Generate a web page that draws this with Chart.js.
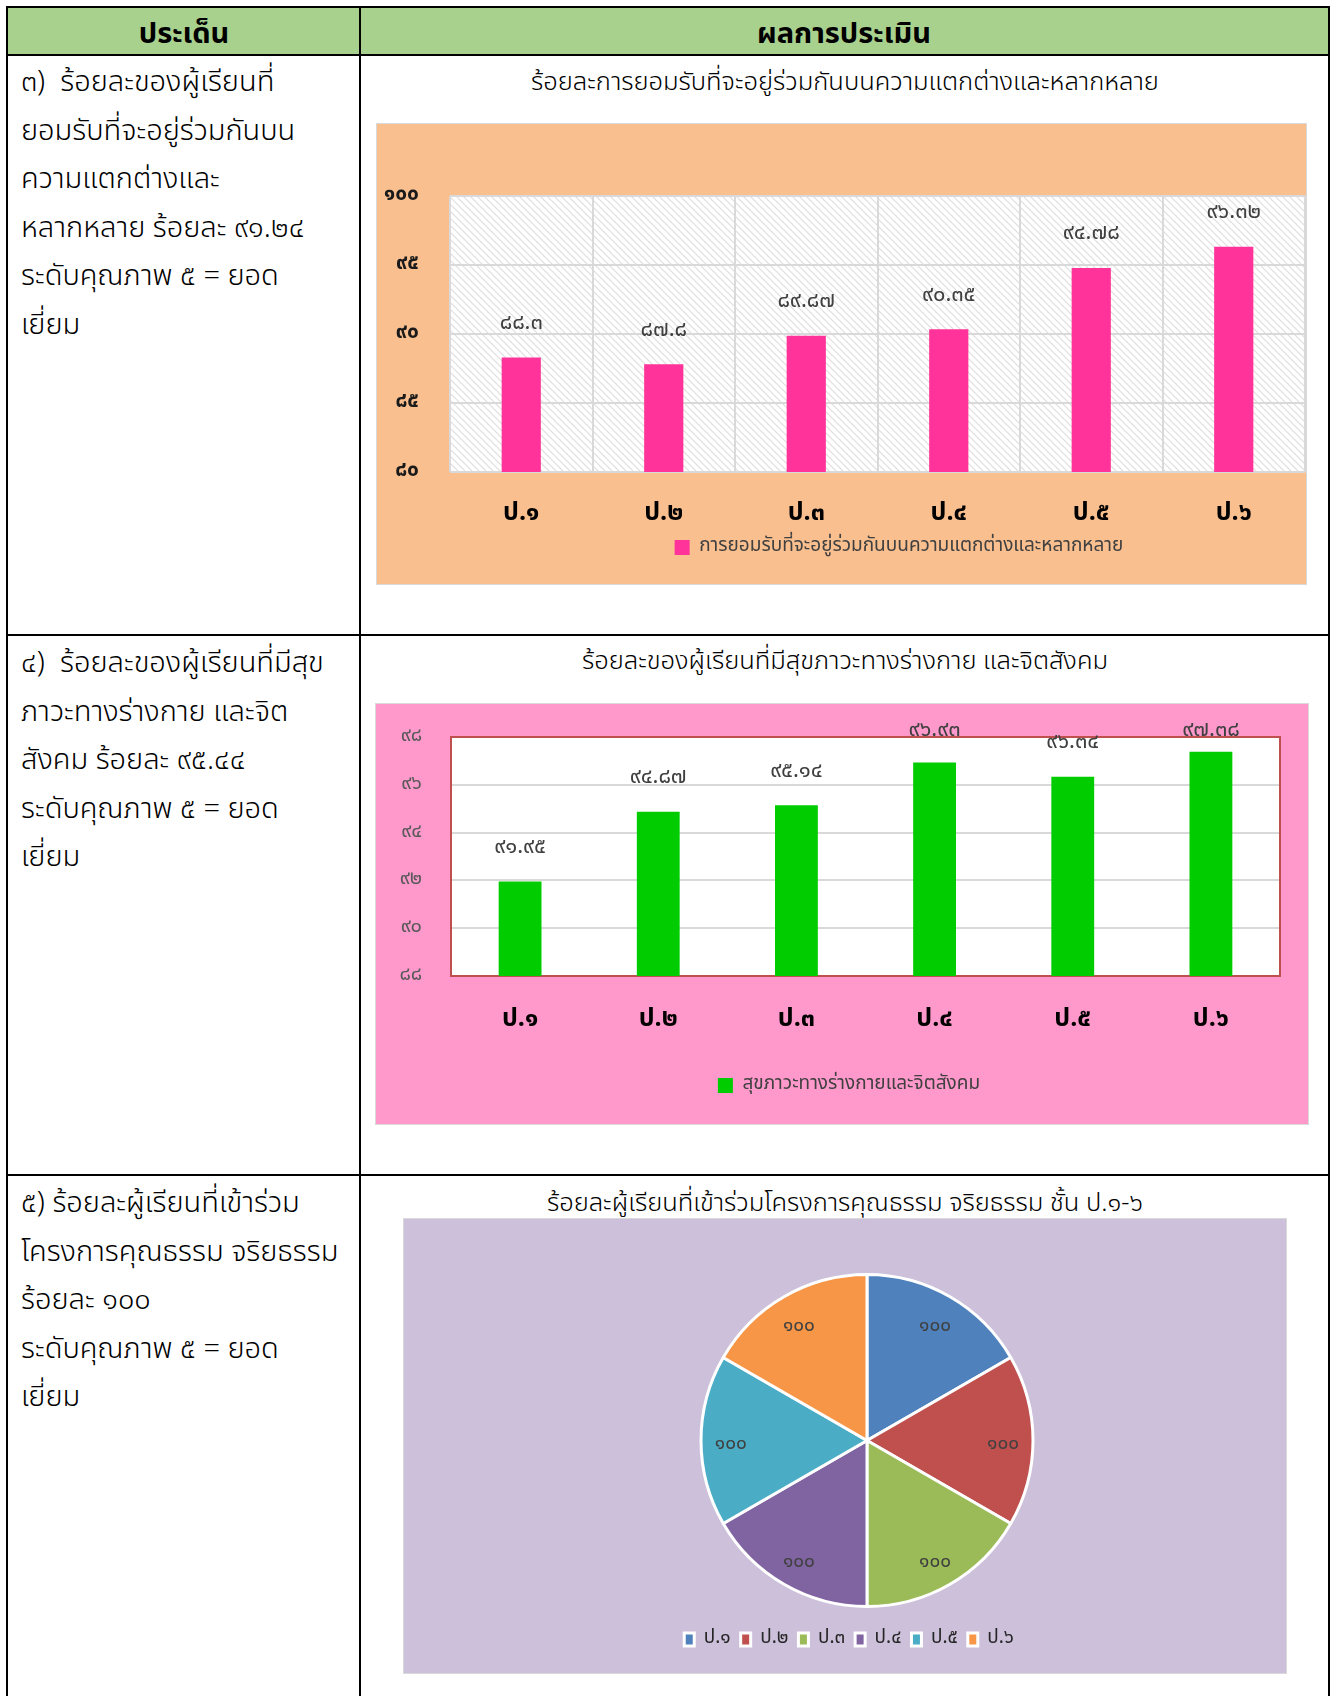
<!DOCTYPE html>
<html><head><meta charset="utf-8">
<script src="https://cdn.jsdelivr.net/npm/chart.js@4.4.1/dist/chart.umd.min.js"></script>
<style>
body{margin:0;background:#fff;}
#page{position:relative;width:1338px;height:1696px;overflow:hidden;font-family:"Noto Sans Thai","Noto Sans Thai UI","Loma","Garuda","Sarabun","DejaVu Sans","Noto Sans",sans-serif;color:#000;}
.ln{position:absolute;background:#000;}
.hdrbg{position:absolute;left:8px;top:8px;width:1320px;height:46px;background:#a9d18e;}
.hd{position:absolute;top:11px;height:46px;line-height:46px;text-align:center;font-weight:bold;font-size:29px;}
.lt{position:absolute;left:21px;width:335px;font-size:29px;font-weight:300;line-height:48.6px;white-space:nowrap;}
.ct{position:absolute;left:360px;width:970px;text-align:center;font-size:25.5px;font-weight:300;line-height:30px;white-space:nowrap;}
.frame{position:absolute;box-sizing:border-box;border:1px solid #d9d9d9;}
.frame canvas{display:block;}
</style></head><body>
<div id="page">
  <div class="hdrbg"></div>
  <div class="hd" style="left:8px;width:352px;">ประเด็น</div>
  <div class="hd" style="left:360px;width:968px;">ผลการประเมิน</div>

  <div class="lt" style="top:58px;">๓)&nbsp; ร้อยละของผู้เรียนที่<br>ยอมรับที่จะอยู่ร่วมกันบน<br>ความแตกต่างและ<br>หลากหลาย ร้อยละ ๙๑.๒๔<br>ระดับคุณภาพ ๕ = ยอด<br>เยี่ยม</div>
  <div class="lt" style="top:639px;">๔)&nbsp; ร้อยละของผู้เรียนที่มีสุข<br>ภาวะทางร่างกาย และจิต<br>สังคม ร้อยละ ๙๕.๔๔<br>ระดับคุณภาพ ๕ = ยอด<br>เยี่ยม</div>
  <div class="lt" style="top:1179px;">๕) ร้อยละผู้เรียนที่เข้าร่วม<br>โครงการคุณธรรม จริยธรรม<br>ร้อยละ ๑๐๐<br>ระดับคุณภาพ ๕ = ยอด<br>เยี่ยม</div>

  <div class="ct" style="top:67px;">ร้อยละการยอมรับที่จะอยู่ร่วมกันบนความแตกต่างและหลากหลาย</div>
  <div class="ct" style="top:646px;">ร้อยละของผู้เรียนที่มีสุขภาวะทางร่างกาย และจิตสังคม</div>
  <div class="ct" style="top:1188px;">ร้อยละผู้เรียนที่เข้าร่วมโครงการคุณธรรม จริยธรรม ชั้น ป.๑-๖</div>

  <div class="frame" style="left:376px;top:123px;width:931px;height:462px;background:#f9bf8f;"><canvas id="c1" width="929" height="460"></canvas></div>
  <div class="frame" style="left:375px;top:703px;width:934px;height:422px;background:#ff99cc;"><canvas id="c2" width="932" height="420"></canvas></div>
  <div class="frame" style="left:403px;top:1218px;width:884px;height:456px;background:#ccc0da;"><canvas id="c3" width="882" height="454"></canvas></div>

  <!-- table lines -->
  <div class="ln" style="left:6px;top:6px;width:1324px;height:2px;"></div>
  <div class="ln" style="left:6px;top:54px;width:1324px;height:2px;"></div>
  <div class="ln" style="left:6px;top:634px;width:1324px;height:2px;"></div>
  <div class="ln" style="left:6px;top:1174px;width:1324px;height:2px;"></div>
  <div class="ln" style="left:6px;top:6px;width:2px;height:1690px;"></div>
  <div class="ln" style="left:359px;top:6px;width:2px;height:1690px;"></div>
  <div class="ln" style="left:1328px;top:6px;width:2px;height:1690px;"></div>
</div>
<script>
const FONT = '"Noto Sans Thai","Noto Sans Thai UI","Loma","Garuda","Sarabun","DejaVu Sans","Noto Sans",sans-serif';
Chart.defaults.font.family = FONT;

// ---- data ----
const grades = ['ป.๑','ป.๒','ป.๓','ป.๔','ป.๕','ป.๖'];
const acceptSeriesName = 'การยอมรับที่จะอยู่ร่วมกันบนความแตกต่างและหลากหลาย';
const acceptValues = [88.3, 87.8, 89.87, 90.35, 94.78, 96.32];
const acceptTicks = [80, 85, 90, 95, 100];
const healthSeriesName = 'สุขภาวะทางร่างกายและจิตสังคม';
const healthValues = [91.95, 94.87, 95.14, 96.93, 96.34, 97.38];
const healthTicks = [88, 90, 92, 94, 96, 98];
const moralValues = [100, 100, 100, 100, 100, 100];
const pieColors = ['#4f81bd','#c0504d','#9bbb59','#8064a2','#4bacc6','#f79646'];

const THAI_DIGITS = '๐๑๒๓๔๕๖๗๘๙';
function toThai(v){ return String(v).replace(/[0-9]/g, d => THAI_DIGITS[+d]); }

// ---- plugins ----
const hatchPlugin = {
  id:'hatch',
  beforeDraw(chart, args, opts){
    if(!opts || !opts.enabled) return;
    const a = chart.chartArea, ctx = chart.ctx;
    const t = document.createElement('canvas'); t.width = 7; t.height = 7;
    const tc = t.getContext('2d');
    tc.fillStyle = '#ffffff'; tc.fillRect(0,0,7,7);
    tc.strokeStyle = '#dedede'; tc.lineWidth = 1.2;
    tc.beginPath();
    tc.moveTo(-1,-1); tc.lineTo(8,8);
    tc.moveTo(-1,6); tc.lineTo(1,8);
    tc.moveTo(6,-1); tc.lineTo(8,1);
    tc.stroke();
    ctx.save();
    ctx.fillStyle = ctx.createPattern(t,'repeat');
    ctx.fillRect(a.left, a.top, a.right-a.left, a.bottom-a.top);
    ctx.restore();
  }
};
const plotBorderPlugin = {
  id:'plotBorder',
  beforeDatasetsDraw(chart, args, opts){
    if(!opts || !opts.color) return;
    const a = chart.chartArea, ctx = chart.ctx;
    ctx.save(); ctx.strokeStyle = opts.color; ctx.lineWidth = opts.width || 2;
    ctx.strokeRect(a.left, a.top, a.right-a.left, a.bottom-a.top);
    ctx.restore();
  }
};
const whiteAreaPlugin = {
  id:'whiteArea',
  beforeDraw(chart, args, opts){
    if(!opts || !opts.color) return;
    const a = chart.chartArea, ctx = chart.ctx;
    ctx.save(); ctx.fillStyle = opts.color;
    ctx.fillRect(a.left, a.top, a.right-a.left, a.bottom-a.top); ctx.restore();
  }
};
const barLabelPlugin = {
  id:'barLabels',
  afterDatasetsDraw(chart, args, opts){
    if(!opts || !opts.enabled) return;
    const ctx = chart.ctx, a = chart.chartArea;
    const meta = chart.getDatasetMeta(0);
    const vals = chart.data.datasets[0].data;
    ctx.save();
    ctx.font = opts.font; ctx.fillStyle = opts.color;
    ctx.textAlign = 'center'; ctx.textBaseline = 'middle';
    meta.data.forEach((bar, i) => {
      let y = bar.y - opts.offset;
      if (opts.minAbove != null) y = Math.max(y, a.top - opts.minAbove);
      ctx.fillText(toThai(vals[i]), bar.x, y);
    });
    ctx.restore();
  }
};
const pieLabelPlugin = {
  id:'pieLabels',
  afterDatasetsDraw(chart, args, opts){
    if(!opts || !opts.enabled) return;
    const ctx = chart.ctx;
    const meta = chart.getDatasetMeta(0);
    const vals = chart.data.datasets[0].data;
    ctx.save();
    ctx.font = opts.font; ctx.fillStyle = opts.color;
    ctx.textAlign = 'center'; ctx.textBaseline = 'middle';
    meta.data.forEach((arc, i) => {
      const mid = (arc.startAngle + arc.endAngle) / 2;
      const r = arc.outerRadius * opts.ratio;
      ctx.fillText(toThai(vals[i]), arc.x + Math.cos(mid) * r, arc.y + Math.sin(mid) * r + (opts.dy || 0));
    });
    ctx.restore();
  }
};
const legendShiftPlugin = {
  id:'legendShift',
  afterLayout(chart, args, opts){
    const lg = chart.legend;
    if(!lg || !opts || opts.centerX == null) return;
    const d = opts.centerX - (lg.left + lg.right) / 2;
    lg.left += d; lg.right += d;
  }
};

// ---- chart 1 ----
new Chart(document.getElementById('c1'), {
  type:'bar',
  data:{ labels: grades, datasets:[{ label: acceptSeriesName, data: acceptValues, backgroundColor:'#ff3399', borderWidth:0, barPercentage:0.275, categoryPercentage:1 }] },
  options:{
    responsive:false, animation:false, devicePixelRatio:1,
    layout:{ padding:{ top:72, left:0, right:1, bottom:17 } },
    scales:{
      x:{ grid:{ color:'#d9d9d9', lineWidth:2, drawTicks:false, offset:true }, border:{ display:false },
          ticks:{ padding:28, color:'#000', font:{ size:25, weight:'bold' } },
          afterFit(s){ s.height = 56; } },
      y:{ min: acceptTicks[0], max: acceptTicks[acceptTicks.length-1],
          afterBuildTicks(s){ s.ticks = acceptTicks.map(v => ({ value: v })); },
          ticks:{ padding:0, color:'#1a1a1a', font:{ size:21, weight:'bold' }, callback: v => toThai(v) },
          grid:{ color:'#d9d9d9', lineWidth:2, drawTicks:true, tickLength:31, tickColor:'rgba(0,0,0,0)' }, border:{ display:false },
          afterFit(s){ s.width = 73; } }
    },
    plugins:{
      legend:{ position:'bottom', labels:{ boxWidth:15, boxHeight:15, padding:10, color:'#404040', font:{ size:19 } } },
      tooltip:{ enabled:false },
      hatch:{ enabled:true },
      barLabels:{ enabled:true, offset:33, font:'22px ' + FONT, color:'#404040' },
      legendShift:{ centerX: 522 }
    }
  },
  plugins:[hatchPlugin, barLabelPlugin, legendShiftPlugin]
});

// ---- chart 2 ----
new Chart(document.getElementById('c2'), {
  type:'bar',
  data:{ labels: grades, datasets:[{ label: healthSeriesName, data: healthValues, backgroundColor:'#00cc00', borderWidth:0, barPercentage:0.31, categoryPercentage:1 }] },
  options:{
    responsive:false, animation:false, devicePixelRatio:1,
    layout:{ padding:{ top:33, left:0, right:28, bottom:19 } },
    scales:{
      x:{ grid:{ display:false }, border:{ display:false },
          ticks:{ padding:22, color:'#000', font:{ size:25, weight:'bold' } },
          afterFit(s){ s.height = 90; } },
      y:{ min: healthTicks[0], max: healthTicks[healthTicks.length-1],
          afterBuildTicks(s){ s.ticks = healthTicks.map(v => ({ value: v })); },
          ticks:{ padding:0, color:'#595959', font:{ size:20 }, callback: v => toThai(v) },
          grid:{ color:'#d9d9d9', lineWidth:2, drawTicks:true, tickLength:29, tickColor:'rgba(0,0,0,0)' }, border:{ display:false },
          afterFit(s){ s.width = 75; } }
    },
    plugins:{
      legend:{ position:'bottom', labels:{ boxWidth:15, boxHeight:15, padding:10, color:'#404040', font:{ size:19 } } },
      tooltip:{ enabled:false },
      whiteArea:{ color:'#ffffff' },
      plotBorder:{ color:'#c0504d', width:2 },
      barLabels:{ enabled:true, offset:33, minAbove:5, font:'22px ' + FONT, color:'#404040' },
      legendShift:{ centerX: 473 }
    }
  },
  plugins:[whiteAreaPlugin, plotBorderPlugin, barLabelPlugin, legendShiftPlugin]
});

// ---- chart 3 ----
new Chart(document.getElementById('c3'), {
  type:'pie',
  data:{ labels: grades, datasets:[{ data: moralValues, backgroundColor: pieColors, borderColor:'#ffffff', borderWidth:3, radius:166 }] },
  options:{
    responsive:false, animation:false, devicePixelRatio:1,
    layout:{ padding:{ top:42, left:44, right:0, bottom:14 } },
    plugins:{
      legend:{ position:'bottom', labels:{ boxWidth:10, boxHeight:13, padding:10, color:'#262626', font:{ size:19 } } },
      tooltip:{ enabled:false },
      pieLabels:{ enabled:true, ratio:0.82, dy:5, font:'19px ' + FONT, color:'#404040' },
      legendShift:{ centerX: 445 }
    }
  },
  plugins:[pieLabelPlugin, legendShiftPlugin]
});
</script>
</body></html>
